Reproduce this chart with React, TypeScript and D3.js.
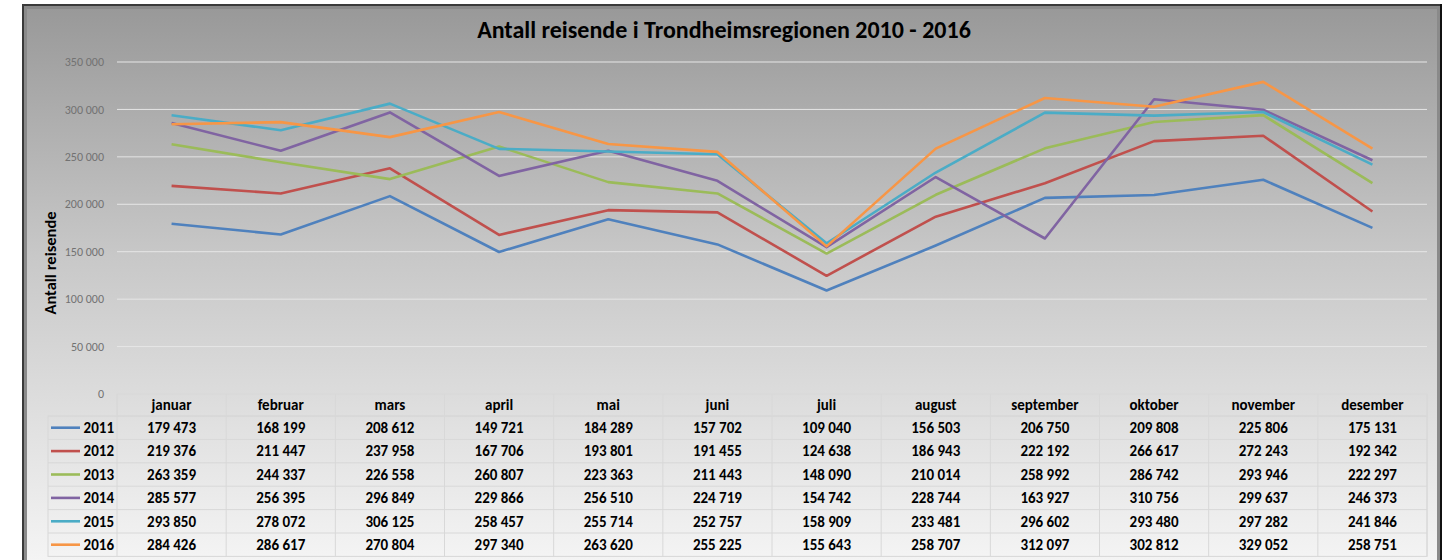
import React from 'react';
import * as d3 from 'd3';

const months = ['januar', 'februar', 'mars', 'april', 'mai', 'juni', 'juli', 'august', 'september', 'oktober', 'november', 'desember'];
const years = ['2011', '2012', '2013', '2014', '2015', '2016'];
const colors = ['#4F81BD', '#C0504D', '#9BBB59', '#8064A2', '#4BACC6', '#F79646'];

const v2011 = [179473, 168199, 208612, 149721, 184289, 157702, 109040, 156503, 206750, 209808, 225806, 175131];
const v2012 = [219376, 211447, 237958, 167706, 193801, 191455, 124638, 186943, 222192, 266617, 272243, 192342];
const v2013 = [263359, 244337, 226558, 260807, 223363, 211443, 148090, 210014, 258992, 286742, 293946, 222297];
const v2014 = [285577, 256395, 296849, 229866, 256510, 224719, 154742, 228744, 163927, 310756, 299637, 246373];
const v2015 = [293850, 278072, 306125, 258457, 255714, 252757, 158909, 233481, 296602, 293480, 297282, 241846];
const v2016 = [284426, 286617, 270804, 297340, 263620, 255225, 155643, 258707, 312097, 302812, 329052, 258751];
const series = [v2011, v2012, v2013, v2014, v2015, v2016];

const yTicks = [0, 50000, 100000, 150000, 200000, 250000, 300000, 350000];

const W = 1452;
const H = 560;
const plotLeft = 117;
const plotRight = 1427;
const tableTop = 394;
const headerH = 22;
const rowH = 23.4;
const legendLeft = 48;

const fmt = (v: number) => d3.format(',')(v).replace(/,/g, ' ');

export default function App() {
  const x = d3.scaleBand<string>().domain(months).range([plotLeft, plotRight]);
  const y = d3.scaleLinear().domain([0, 350000]).range([394, 62]);
  const line = d3.line<number>()
    .x((d, i) => (x(months[i]) as number) + x.bandwidth() / 2)
    .y(d => y(d));

  const tableBottom = tableTop + headerH + rowH * years.length;
  const font = 'Carlito, "Open Sans", "Noto Sans", sans-serif';

  return (
    <svg width={W} height={H} style={{ position: 'absolute', left: 0, top: 0 }} fontFamily={font}>
      <defs>
        <linearGradient id="bg" x1="0" y1="0" x2="0" y2="1">
          <stop offset="0" stopColor="#999999" />
          <stop offset="0.45" stopColor="#c8c8c8" />
          <stop offset="1" stopColor="#f4f4f4" />
        </linearGradient>
      </defs>
      <rect x={0} y={0} width={W} height={H} fill="#ffffff" />
      {/* frame */}
      <rect x={22} y={4} width={1420} height={556} fill="#3a3a3a" />
      <rect x={24} y={6} width={1416} height={554} fill="#8a8a8a" />
      <rect x={27} y={9} width={1410} height={551} fill="url(#bg)" />
      <line x1={1441} y1={4} x2={1441} y2={560} stroke="#111" strokeWidth={2} />

      <text x={724} y={38} textAnchor="middle" fontSize={24} fontWeight="bold" fill="#000">
        Antall reisende i Trondheimsregionen 2010 - 2016
      </text>

      {yTicks.map(t => (
        <g key={t}>
          {t > 0 && (
            <line x1={plotLeft} x2={plotRight} y1={y(t)} y2={y(t)} stroke="#e6e6e6" strokeWidth={1} />
          )}
          <text x={104} y={y(t)} dy="0.35em" textAnchor="end" fontSize={12} fill="#727272">
            {fmt(t)}
          </text>
        </g>
      ))}

      <text transform={`translate(56,${263}) rotate(-90)`} textAnchor="middle" fontSize={16.5} fontWeight="bold" fill="#000">
        Antall reisende
      </text>

      {series.map((s, i) => (
        <path key={years[i]} d={line(s) as string} fill="none" stroke={colors[i]} strokeWidth={2.6} strokeLinejoin="round" />
      ))}

      {/* data table */}
      <g stroke="#d8d8d8" strokeWidth={1} fill="none">
        <rect x={plotLeft} y={tableTop} width={plotRight - plotLeft} height={headerH} />
        <rect x={legendLeft} y={tableTop + headerH} width={plotRight - legendLeft} height={rowH * years.length} />
        {months.map(m => (
          <line key={m} x1={x(m) as number} x2={x(m) as number} y1={tableTop} y2={tableBottom} />
        ))}
        <line x1={plotRight} x2={plotRight} y1={tableTop} y2={tableBottom} />
        {years.map((yr, i) => (
          <line key={yr} x1={legendLeft} x2={plotRight} y1={tableTop + headerH + rowH * i} y2={tableTop + headerH + rowH * i} />
        ))}
      </g>

      {months.map(m => (
        <text key={m} x={(x(m) as number) + x.bandwidth() / 2} y={tableTop + headerH / 2} dy="0.35em" textAnchor="middle" fontSize={15} fontWeight="bold" fill="#000">
          {m}
        </text>
      ))}

      {years.map((yr, i) => {
        const cy = tableTop + headerH + rowH * i + rowH / 2;
        return (
          <g key={yr}>
            <line x1={51} x2={80} y1={cy} y2={cy} stroke={colors[i]} strokeWidth={2.6} />
            <text x={114} y={cy} dy="0.35em" textAnchor="end" fontSize={15} fontWeight="bold" fill="#000">{yr}</text>
            {series[i].map((v, j) => (
              <text key={j} x={(x(months[j]) as number) + x.bandwidth() / 2} y={cy} dy="0.35em" textAnchor="middle" fontSize={15} fontWeight="bold" fill="#000">
                {fmt(v)}
              </text>
            ))}
          </g>
        );
      })}
    </svg>
  );
}
